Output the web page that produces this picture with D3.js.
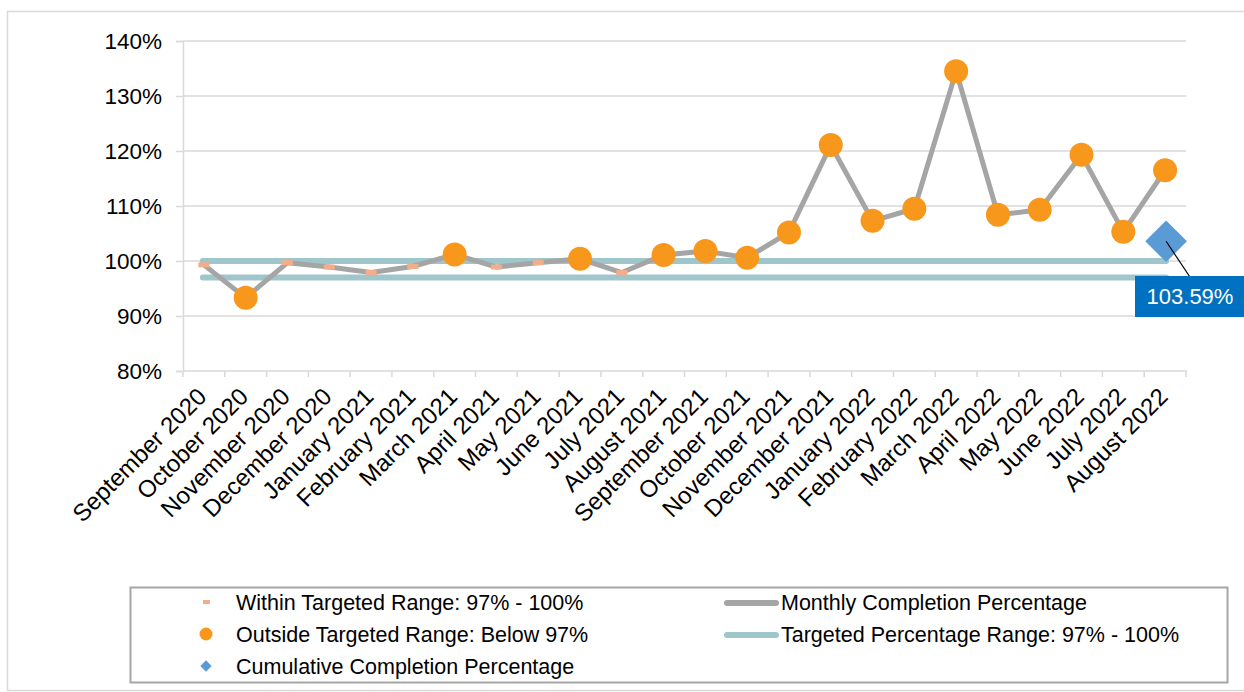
<!DOCTYPE html>
<html>
<head>
<meta charset="utf-8">
<script src="https://cdn.jsdelivr.net/npm/d3@7"></script>
<style>
  body { margin: 0; background: #fff; }
  svg { display: block; font-family: "Liberation Sans", Arial, sans-serif; }
</style>
</head>
<body>
<div id="chart"></div>
<script>
let w = 1244;
let h = 692;

let months = ["September 2020", "October 2020", "November 2020", "December 2020", "January 2021",
  "February 2021", "March 2021", "April 2021", "May 2021", "June 2021", "July 2021", "August 2021",
  "September 2021", "October 2021", "November 2021", "December 2021", "January 2022", "February 2022",
  "March 2022", "April 2022", "May 2022", "June 2022", "July 2022", "August 2022"];

let monthly = [99.3, 93.3, 99.7, 98.9, 97.9, 99.0, 101.2, 98.9, 99.7, 100.4, 97.9, 101.1,
  101.8, 100.6, 105.2, 121.1, 107.3, 109.5, 134.5, 108.4, 109.3, 119.3, 105.3, 116.5];

let cumulative = 103.59;
let targetRange = [97, 100];
let yTicks = [80, 90, 100, 110, 120, 130, 140];

let legendLeft = ["Within Targeted Range: 97% - 100%", "Outside Targeted Range: Below 97%", "Cumulative Completion Percentage"];
let legendRight = ["Monthly Completion Percentage", "Targeted Percentage Range: 97% - 100%"];

let gridColor = "#d9d9d9";
let lineGray = "#a5a5a5";
let teal = "#9fc6cb";
let orange = "#f7981d";
let salmon = "#f4ad8b";
let blue = "#5b9bd5";

let svg = d3.select("#chart").append("svg")
  .attr("width", w)
  .attr("height", h);

// outer chart frame
svg.append("rect")
  .attr("x", 7.5).attr("y", 11.5)
  .attr("width", w).attr("height", 679)
  .attr("fill", "none")
  .attr("stroke", gridColor)
  .attr("stroke-width", 1.5);

let xScale = d3.scaleBand(months, [183, 1186]);
let yScale = d3.scaleLinear([80, 140], [371, 41]);
let cx = (m) => xScale(m) + xScale.bandwidth() / 2;

// gridlines + y axis
let yAxis = d3.axisLeft(yScale)
  .tickValues(yTicks)
  .tickFormat((d) => d + "%")
  .tickSize(7)
  .tickPadding(14);

let gy = svg.append("g")
  .attr("transform", "translate(183,0)")
  .call(yAxis);
gy.select(".domain").attr("stroke", gridColor).attr("stroke-width", 1.5);
gy.selectAll(".tick line").attr("stroke", gridColor).attr("stroke-width", 1.5);
gy.selectAll(".tick text").attr("font-size", 22.5).attr("fill", "#000");

svg.append("g")
  .selectAll("line")
  .data(yTicks.filter((d) => d > 80))
  .enter()
  .append("line")
  .attr("x1", 183).attr("x2", 1186)
  .attr("y1", (d) => yScale(d)).attr("y2", (d) => yScale(d))
  .attr("stroke", gridColor)
  .attr("stroke-width", 1.5);

// x axis with ticks at band edges
let gx = svg.append("g").attr("transform", "translate(0,371)");
gx.append("line")
  .attr("x1", 183).attr("x2", 1187)
  .attr("stroke", gridColor).attr("stroke-width", 1.5);
gx.selectAll(".edge")
  .data(months.concat(["end"]))
  .enter()
  .append("line")
  .attr("class", "edge")
  .attr("x1", (d, i) => i < months.length ? xScale(d) : 1186)
  .attr("x2", (d, i) => i < months.length ? xScale(d) : 1186)
  .attr("y1", 0).attr("y2", 6)
  .attr("stroke", gridColor).attr("stroke-width", 1.5);
gx.selectAll("text")
  .data(months)
  .enter()
  .append("text")
  .attr("text-anchor", "end")
  .attr("font-size", 24)
  .attr("fill", "#000")
  .attr("transform", (d) => `translate(${cx(d) + 4},${27}) rotate(-45)`)
  .text((d) => d);

// target range lines
svg.append("g")
  .selectAll("line")
  .data(targetRange)
  .enter()
  .append("line")
  .attr("x1", cx(months[0]) - 1)
  .attr("x2", cx(months[months.length - 1]) + 1)
  .attr("y1", (d) => yScale(d)).attr("y2", (d) => yScale(d))
  .attr("stroke", teal)
  .attr("stroke-width", 6)
  .attr("stroke-linecap", "round");

// monthly line
let line = d3.line()
  .x((d, i) => cx(months[i]))
  .y((d) => yScale(d));

svg.append("path")
  .datum(monthly)
  .attr("d", line)
  .attr("fill", "none")
  .attr("stroke", lineGray)
  .attr("stroke-width", 5)
  .attr("stroke-linejoin", "round");

let inRange = (v) => v >= targetRange[0] && v <= targetRange[1];
let pts = monthly.map((v, i) => ({ m: months[i], v: v }));

// within range markers (dashes)
svg.append("g")
  .selectAll("rect")
  .data(pts.filter((d) => inRange(d.v)))
  .enter()
  .append("rect")
  .attr("x", (d) => cx(d.m) - 5.5)
  .attr("y", (d) => yScale(d.v) - 2.5)
  .attr("width", 11).attr("height", 5)
  .attr("fill", salmon);

// outside range markers (circles)
svg.append("g")
  .selectAll("circle")
  .data(pts.filter((d) => !inRange(d.v)))
  .enter()
  .append("circle")
  .attr("cx", (d) => cx(d.m))
  .attr("cy", (d) => yScale(d.v))
  .attr("r", 12)
  .attr("fill", orange);

// cumulative diamond + callout
let last = months[months.length - 1];
let dx = cx(last) + 1;
let dy = yScale(cumulative);
svg.append("path")
  .attr("d", d3.symbol(d3.symbolSquare, 870)())
  .attr("transform", `translate(${dx},${dy}) rotate(45)`)
  .attr("fill", blue);

svg.append("line")
  .attr("x1", dx).attr("y1", dy)
  .attr("x2", dx + 24).attr("y2", dy + 36)
  .attr("stroke", "#000")
  .attr("stroke-width", 1.2);

svg.append("rect")
  .attr("x", 1135).attr("y", 276)
  .attr("width", 115).attr("height", 41)
  .attr("fill", "#0070c0");
svg.append("text")
  .attr("x", 1190).attr("y", 304)
  .attr("text-anchor", "middle")
  .attr("font-size", 22)
  .attr("fill", "#fff")
  .text(cumulative.toFixed(2) + "%");

// legend
let legend = svg.append("g");
legend.append("rect")
  .attr("x", 130.5).attr("y", 587.5)
  .attr("width", 1097).attr("height", 95)
  .attr("fill", "none")
  .attr("stroke", "#a6a6a6")
  .attr("stroke-width", 2);

let rowY = [602, 634, 666];

legend.append("rect")
  .attr("x", 203).attr("y", rowY[0] - 2).attr("width", 7).attr("height", 4)
  .attr("fill", salmon);
legend.append("circle")
  .attr("cx", 206).attr("cy", rowY[1]).attr("r", 6.5)
  .attr("fill", orange);
legend.append("path")
  .attr("d", d3.symbol(d3.symbolSquare, 64)())
  .attr("transform", `translate(206,${rowY[2]}) rotate(45)`)
  .attr("fill", blue);

legend.selectAll(".ltxt")
  .data(legendLeft)
  .enter()
  .append("text")
  .attr("class", "ltxt")
  .attr("x", 236)
  .attr("y", (d, i) => rowY[i])
  .attr("dy", "0.36em")
  .attr("font-size", 21.5)
  .attr("fill", "#000")
  .text((d) => d);

let rightColors = [lineGray, teal];
legend.selectAll(".rline")
  .data(legendRight)
  .enter()
  .append("line")
  .attr("class", "rline")
  .attr("x1", 727).attr("x2", 776)
  .attr("y1", (d, i) => rowY[i] + 1).attr("y2", (d, i) => rowY[i] + 1)
  .attr("stroke", (d, i) => rightColors[i])
  .attr("stroke-width", 6)
  .attr("stroke-linecap", "round");

legend.selectAll(".rtxt")
  .data(legendRight)
  .enter()
  .append("text")
  .attr("class", "rtxt")
  .attr("x", 781)
  .attr("y", (d, i) => rowY[i])
  .attr("dy", "0.36em")
  .attr("font-size", 21.5)
  .attr("fill", "#000")
  .text((d) => d);
</script>
</body>
</html>
